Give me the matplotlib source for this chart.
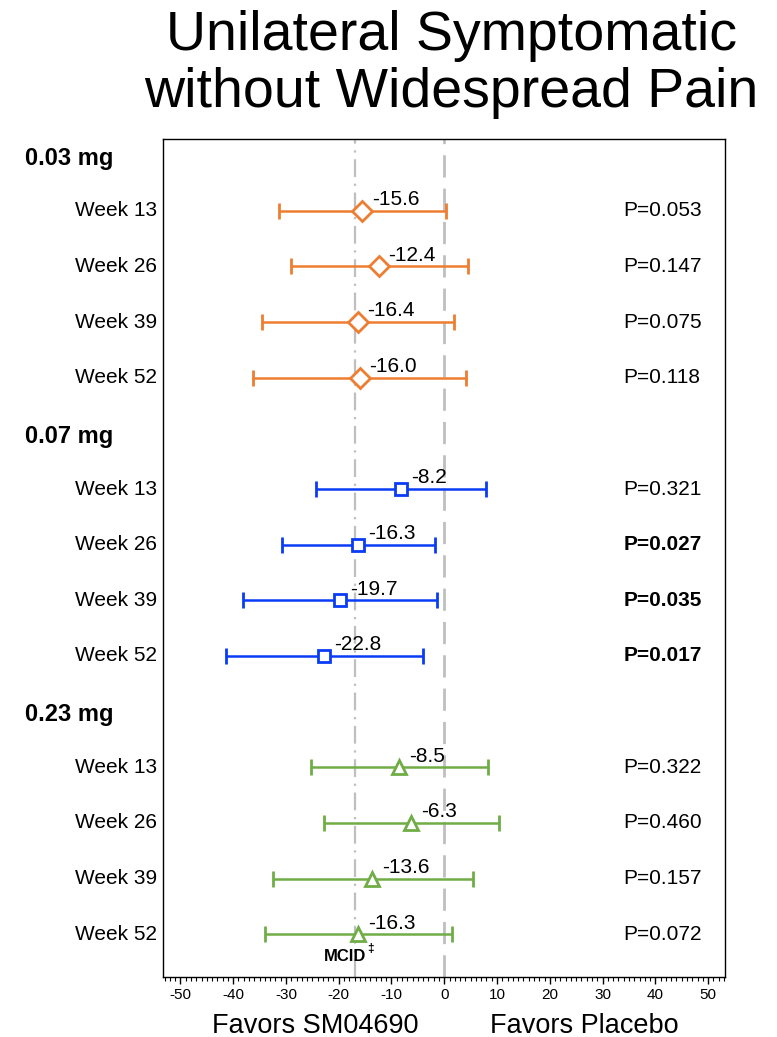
import matplotlib
matplotlib.use("Agg")
import matplotlib.pyplot as plt
from matplotlib.ticker import MultipleLocator
import matplotlib.transforms as mtransforms

plt.rcParams['font.family'] = ['Liberation Sans', 'DejaVu Sans']
plt.rcParams['axes.unicode_minus'] = False

# ---- data ----
groups = ['0.03 mg', '0.07 mg', '0.23 mg']
weeks = ['Week 13', 'Week 26', 'Week 39', 'Week 52']
est_003 = [-15.6, -12.4, -16.4, -16.0]
lo_003 = [-31.3, -29.1, -34.5, -36.2]
hi_003 = [0.4, 4.5, 1.8, 4.2]
p_003 = ['P=0.053', 'P=0.147', 'P=0.075', 'P=0.118']
est_007 = [-8.2, -16.3, -19.7, -22.8]
lo_007 = [-24.3, -30.8, -38.1, -41.4]
hi_007 = [8.0, -1.8, -1.3, -4.1]
p_007 = ['P=0.321', 'P=0.027', 'P=0.035', 'P=0.017']
sig_007 = [False, True, True, True]
est_023 = [-8.5, -6.3, -13.6, -16.3]
lo_023 = [-25.3, -22.8, -32.5, -34.0]
hi_023 = [8.3, 10.4, 5.4, 1.5]
p_023 = ['P=0.322', 'P=0.460', 'P=0.157', 'P=0.072']
sig_003 = [False] * 4
sig_023 = [False] * 4
mcid = -17
xticks = list(range(-50, 51, 10))

series = [
    (est_003, lo_003, hi_003, p_003, sig_003, '#ED7D31', 'D', 10.5),
    (est_007, lo_007, hi_007, p_007, sig_007, '#0A3CF5', 's', 9.0),
    (est_023, lo_023, hi_023, p_023, sig_023, '#70AD47', '^', 10.5),
]

fig = plt.figure(figsize=(7.77, 10.37), dpi=100)
ax = fig.add_axes([163/777, 1 - 977/1037, 562/777, 838/1037])

ax.axvline(0, color='#BFBFBF', lw=2.0, ls=(0, (8, 4)), zorder=1)
ax.axvline(mcid, color='#BFBFBF', lw=1.6, ls=(0, (8, 3, 1, 3)), zorder=1)

trans_lab = mtransforms.blended_transform_factory(fig.transFigure, ax.transData)

for g, (est, lo, hi, pv, sig, col, mk, ms) in enumerate(series):
    base = g * 5
    ys = [base + i for i in range(len(est))]
    xerr = [[e - l for e, l in zip(est, lo)], [h - e for e, h in zip(est, hi)]]
    ax.errorbar(est, ys, xerr=xerr, fmt=mk, color=col, mfc='white', mec=col,
                mew=2.0, ms=ms, elinewidth=1.8, capsize=6, capthick=1.8, zorder=3)
    for x, y, w, p, s in zip(est, ys, weeks, pv, sig):
        ax.annotate(f'{x:.1f}', (x, y), xytext=(7, 8), textcoords='offset points',
                    ha='left', va='center', fontsize=15)
        ax.text(157/777, y, w, transform=trans_lab, ha='right', va='center', fontsize=15)
        ax.text(34.0, y, p, ha='left', va='center', fontsize=15,
                fontweight='bold' if s else 'normal')
    ax.text(25/777, base - 0.94, groups[g], transform=trans_lab, ha='left', va='center',
            fontsize=17, fontweight='bold')

ax.text(mcid - 1.8, 13.41, 'MCID', ha='center', va='center', fontsize=12, fontweight='bold')
ax.text(mcid + 2.3, 13.27, '‡', ha='left', va='center', fontsize=8.5, fontweight='bold')

ax.set_xlim(-53.3, 53.2)
ax.set_ylim(13.77, -1.29)
ax.set_yticks([])
ax.set_xticks(xticks)
ax.xaxis.set_minor_locator(MultipleLocator(1))
ax.tick_params(axis='x', which='major', length=5, width=1, labelsize=11, pad=3, direction='out')
ax.tick_params(axis='x', which='minor', length=3, width=0.8, direction='out')
for s in ax.spines.values():
    s.set_linewidth(1.0)

fig.text(315/777, 1 - 1026/1037, 'Favors SM04690', ha='center', va='center', fontsize=19.5)
fig.text(584/777, 1 - 1026/1037, 'Favors Placebo', ha='center', va='center', fontsize=19.5)

fig.text(451/777, 1 - 50/1037, 'Unilateral Symptomatic', ha='center', va='baseline', fontsize=40)
fig.text(451/777, 1 - 107/1037, 'without Widespread Pain', ha='center', va='baseline', fontsize=40)

fig.savefig('out.png', dpi=100)
